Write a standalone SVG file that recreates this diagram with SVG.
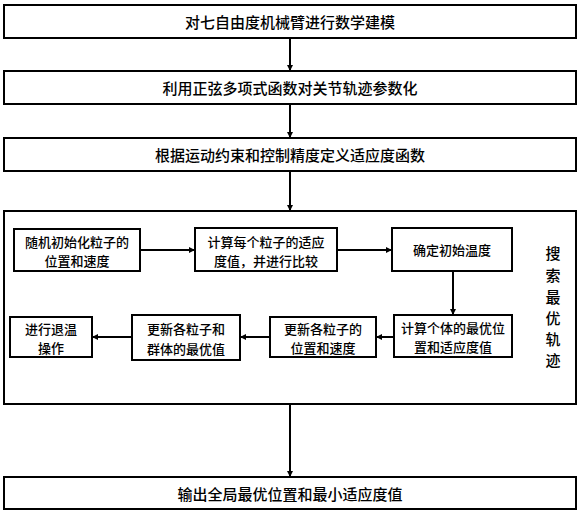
<svg xmlns="http://www.w3.org/2000/svg" width="580" height="512" viewBox="0 0 580 512">
<defs>
<marker id="ah" markerWidth="6" markerHeight="6" refX="5" refY="3" orient="auto" markerUnits="userSpaceOnUse">
<path d="M0,0 L6,3 L0,6 Z" fill="#000"/>
</marker>
<style>
.box{fill:#fff;stroke:#000;stroke-width:2}
.t{font-family:"Noto Sans CJK SC","Noto Sans CJK JP",sans-serif;font-size:15px;font-weight:500;fill:#000;text-anchor:middle;dominant-baseline:central}
.s{font-family:"Noto Sans CJK SC","Noto Sans CJK JP",sans-serif;font-size:13px;font-weight:500;fill:#000;text-anchor:middle;dominant-baseline:central}
.c{stroke:#000;stroke-width:2;fill:none;marker-end:url(#ah)}
</style>
</defs>
<rect width="580" height="512" fill="#fff"/>
<g id="n1"><rect class="box" x="4" y="5" width="572" height="33"/><text class="t" x="290" y="21.5">对七自由度机械臂进行数学建模</text></g>
<g id="n2"><rect class="box" x="4" y="71" width="572" height="33"/><text class="t" x="290" y="87.5">利用正弦多项式函数对关节轨迹参数化</text></g>
<g id="n3"><rect class="box" x="4" y="138" width="572" height="33"/><text class="t" x="290" y="154.5">根据运动约束和控制精度定义适应度函数</text></g>
<g id="search"><rect class="box" x="4" y="211" width="572" height="193"/>
<text class="t" x="553" y="252">搜</text><text class="t" x="553" y="274">索</text><text class="t" x="553" y="296">最</text><text class="t" x="553" y="317">优</text><text class="t" x="553" y="338">轨</text><text class="t" x="553" y="359">迹</text></g>
<g id="b1"><rect class="box" x="14" y="229" width="126" height="42"/><text class="s" x="77" y="241">随机初始化粒子的</text><text class="s" x="77" y="260">位置和速度</text></g>
<g id="b2"><rect class="box" x="195" y="228" width="142" height="43"/><text class="s" x="266" y="241">计算每个粒子的适应</text><text class="s" x="266" y="260">度值，并进行比较</text></g>
<g id="b3"><rect class="box" x="392" y="228" width="120" height="43"/><text class="s" x="452" y="249.5">确定初始温度</text></g>
<g id="b4"><rect class="box" x="394" y="315" width="118" height="42"/><text class="s" x="453" y="327">计算个体的最优位</text><text class="s" x="453" y="346">置和适应度值</text></g>
<g id="b5"><rect class="box" x="270" y="317" width="106" height="40"/><text class="s" x="323" y="328">更新各粒子的</text><text class="s" x="323" y="347">位置和速度</text></g>
<g id="b6"><rect class="box" x="132" y="315" width="108" height="45"/><text class="s" x="186" y="328">更新各粒子和</text><text class="s" x="186" y="348">群体的最优值</text></g>
<g id="b7"><rect class="box" x="10" y="317" width="82" height="40"/><text class="s" x="51" y="328">进行退温</text><text class="s" x="51" y="347">操作</text></g>
<g id="n4"><rect class="box" x="4" y="477" width="572" height="32"/><text class="t" x="290" y="493">输出全局最优位置和最小适应度值</text></g>
<g id="connectors">
<line class="c" x1="290" y1="38" x2="290" y2="70"/>
<line class="c" x1="290" y1="104" x2="290" y2="137"/>
<line class="c" x1="290" y1="171" x2="290" y2="210"/>
<line class="c" x1="290" y1="404" x2="290" y2="476"/>
<line class="c" x1="140" y1="250" x2="194" y2="250"/>
<line class="c" x1="337" y1="250" x2="391" y2="250"/>
<line class="c" x1="453" y1="271" x2="453" y2="314"/>
<line class="c" x1="394" y1="337" x2="377" y2="337"/>
<line class="c" x1="270" y1="337" x2="241" y2="337"/>
<line class="c" x1="132" y1="337" x2="93" y2="337"/>
</g>
</svg>
